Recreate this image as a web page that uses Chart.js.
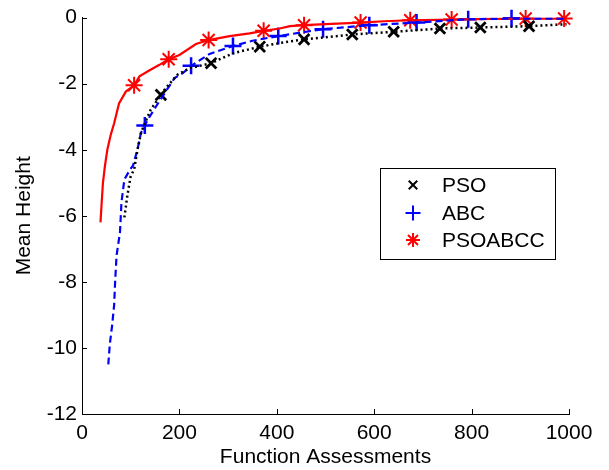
<!DOCTYPE html>
<html>
<head>
<meta charset="utf-8">
<script src="https://cdn.jsdelivr.net/npm/chart.js@4"></script>
<style>
  html, body { margin: 0; padding: 0; background: #fff; }
  #wrap { width: 609px; height: 470px; }
</style>
</head>
<body>
<div id="wrap"><canvas id="myChart"></canvas></div>
<script>
// tick labels
const xTicks = [0, 200, 400, 600, 800, 1000];
const yTicks = [-12, -10, -8, -6, -4, -2, 0];

// PSO curve (black dotted)
const psoX = [87, 93, 100, 107, 114, 121, 129, 141, 162, 172, 196, 221, 265, 310, 365, 410, 456, 555, 640, 735, 818, 918, 995];
const psoY = [-6.05, -5.4, -4.8, -4.6, -4.0, -3.5, -3.2, -2.79, -2.34, -2.13, -1.73, -1.53, -1.38, -1.08, -0.88, -0.76, -0.66, -0.51, -0.43, -0.33, -0.30, -0.26, -0.2];
// ABC curve (blue dashed)
const abcX = [54, 57, 62, 66, 68, 71, 75, 78, 81, 87, 97, 105, 114, 121, 129, 135, 152, 174, 190, 207, 224, 262, 310, 350, 403, 450, 495, 590, 687, 793, 882, 995];
const abcY = [-10.5, -9.9, -9.3, -8.7, -8.0, -7.2, -6.8, -6.5, -5.6, -4.9, -4.64, -4.47, -3.99, -3.49, -3.27, -3.09, -2.69, -2.19, -1.83, -1.68, -1.46, -1.1, -0.86, -0.7, -0.56, -0.45, -0.35, -0.23, -0.15, -0.05, -0.03, -0.03];
// PSOABCC curve (red solid)
const hybX = [38, 40, 43, 47, 52, 59, 66, 76, 90, 107, 118, 138, 159, 178, 200, 234, 260, 303, 344, 373, 406, 427, 456, 500, 572, 620, 674, 759, 840, 911, 990];
const hybY = [-6.2, -5.7, -5.0, -4.5, -4.0, -3.55, -3.2, -2.6, -2.24, -2.05, -1.78, -1.6, -1.43, -1.26, -1.13, -0.8, -0.68, -0.56, -0.48, -0.40, -0.33, -0.26, -0.23, -0.2, -0.15, -0.11, -0.08, -0.06, -0.04, -0.03, -0.03];

// marker positions
const psoMarkX = [162, 265, 365, 456, 555, 640, 735, 818, 918];
const psoMarkY = [-2.34, -1.38, -0.88, -0.66, -0.51, -0.43, -0.33, -0.30, -0.26];
const abcMarkX = [129, 224, 310, 403, 495, 590, 687, 793, 882];
const abcMarkY = [-3.27, -1.46, -0.86, -0.56, -0.35, -0.23, -0.15, -0.05, -0.02];
const hybMarkX = [107, 178, 260, 373, 456, 572, 674, 759, 911, 990];
const hybMarkY = [-2.05, -1.26, -0.68, -0.40, -0.23, -0.15, -0.08, -0.06, -0.03, -0.03];

const seriesNames = ["PSO", "ABC", "PSOABCC"];

function pts(xs, ys) {
    return xs.map((x, i) => ({x: x, y: ys[i]}));
}

const FONT = "'Liberation Sans', Arial, sans-serif";

// inward tick marks, like the original
const inwardTicks = {
    id: 'inwardTicks',
    afterDraw(chart) {
        const ctx = chart.ctx;
        const xs = chart.scales.x, ys = chart.scales.y;
        const area = chart.chartArea;
        ctx.save();
        ctx.strokeStyle = '#000';
        ctx.lineWidth = 1;
        ctx.beginPath();
        xTicks.forEach(v => {
            const px = Math.round(xs.getPixelForValue(v)) + 0.5;
            ctx.moveTo(px, area.bottom);
            ctx.lineTo(px, area.bottom - 5);
        });
        yTicks.forEach(v => {
            const py = Math.round(ys.getPixelForValue(v)) + 0.5;
            ctx.moveTo(area.left, py);
            ctx.lineTo(area.left + 5, py);
        });
        ctx.stroke();
        ctx.restore();
    }
};

// boxed legend inside the plot, markers only
const boxLegend = {
    id: 'boxLegend',
    afterDraw(chart) {
        const ctx = chart.ctx;
        const left = 380, top = 168, w = 175, h = 91;
        ctx.save();
        ctx.fillStyle = '#fff';
        ctx.fillRect(left, top, w, h);
        ctx.strokeStyle = '#000';
        ctx.lineWidth = 1;
        ctx.strokeRect(left + 0.5, top + 0.5, w, h);
        const rows = [185, 213, 240];
        ctx.font = "21px " + FONT;
        ctx.textBaseline = 'middle';
        ctx.textAlign = 'left';
        rows.forEach((ry, i) => {
            const ds = chart.data.datasets[i + 3];
            ctx.strokeStyle = ds.borderColor;
            ctx.fillStyle = ds.borderColor;
            ctx.lineWidth = 2;
            Chart.helpers.drawPoint(ctx, {
                pointStyle: ds.pointStyle,
                radius: ds.legendRadius,
                borderWidth: 2
            }, 413, ry);
            ctx.fillStyle = '#000';
            ctx.fillText(seriesNames[i], 442, ry + 1);
        });
        ctx.restore();
    }
};

function setStroke(color) {
    return {borderColor: color, backgroundColor: color};
}

new Chart(document.getElementById('myChart'), {
    type: 'scatter',
    data: {
        datasets: [
            Object.assign({
                label: 'PSO line', data: pts(psoX, psoY), showLine: true,
                borderWidth: 2.5, borderDash: [2, 3], pointRadius: 0
            }, setStroke('#000000')),
            Object.assign({
                label: 'ABC line', data: pts(abcX, abcY), showLine: true,
                borderWidth: 2.2, borderDash: [7, 4], pointRadius: 0
            }, setStroke('#0000ff')),
            Object.assign({
                label: 'PSOABCC line', data: pts(hybX, hybY), showLine: true,
                borderWidth: 2.2, pointRadius: 0
            }, setStroke('#ff0000')),
            Object.assign({
                label: seriesNames[0], data: pts(psoMarkX, psoMarkY), showLine: false,
                pointStyle: 'crossRot', pointRadius: 7.5, pointBorderWidth: 2.8, legendRadius: 6, clip: false
            }, setStroke('#000000')),
            Object.assign({
                label: seriesNames[1], data: pts(abcMarkX, abcMarkY), showLine: false,
                pointStyle: 'cross', pointRadius: 8.5, pointBorderWidth: 2.5, legendRadius: 7.5, clip: false
            }, setStroke('#0000ff')),
            Object.assign({
                label: seriesNames[2], data: pts(hybMarkX, hybMarkY), showLine: false,
                pointStyle: 'star', pointRadius: 8.5, pointBorderWidth: 2, legendRadius: 7, clip: false
            }, setStroke('#ff0000'))
        ]
    },
    options: {
        responsive: true,
        maintainAspectRatio: false,
        animation: false,
        layout: {padding: {top: 11, right: 40, left: 12, bottom: 0}},
        plugins: {
            legend: {display: false},
            tooltip: {enabled: false}
        },
        scales: {
            x: {
                type: 'linear', min: 0, max: 1000,
                afterBuildTicks: s => { s.ticks = xTicks.map(v => ({value: v})); },
                grid: {display: false, drawTicks: false},
                border: {display: true, color: '#000', width: 1},
                ticks: {color: '#000', padding: 7, font: {family: FONT, size: 21}, maxRotation: 0,
                        callback: v => String(v)},
                title: {display: true, text: 'Function Assessments', color: '#000',
                        font: {family: FONT, size: 21}, padding: {top: 0, bottom: 0}},
                afterFit: s => { s.height = 56; }
            },
            y: {
                type: 'linear', min: -12, max: 0,
                afterBuildTicks: s => { s.ticks = yTicks.map(v => ({value: v})); },
                grid: {display: false, drawTicks: false},
                border: {display: true, color: '#000', width: 1},
                ticks: {color: '#000', padding: 5, font: {family: FONT, size: 21},
                        callback: v => String(v)},
                title: {display: true, text: 'Mean Height', color: '#000',
                        font: {family: FONT, size: 21}, padding: {top: 0, bottom: 6}},
                afterFit: s => { s.width = 70; }
            }
        }
    },
    plugins: [inwardTicks, boxLegend]
});
</script>
</body>
</html>
